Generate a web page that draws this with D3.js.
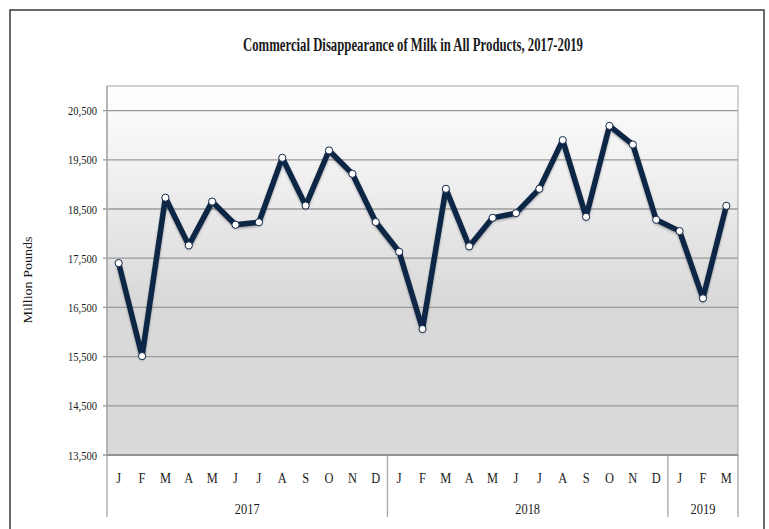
<!DOCTYPE html>
<html>
<head>
<meta charset="utf-8">
<script src="https://cdn.jsdelivr.net/npm/d3@7"></script>
<style>
  body { margin: 0; background: #fff; }
  text { font-family: "Liberation Serif", "DejaVu Serif", serif; fill: #1a1a1a; }
</style>
</head>
<body>
<div id="chart"></div>
<script>
// Data
const months = ["J","F","M","A","M","J","J","A","S","O","N","D",
                "J","F","M","A","M","J","J","A","S","O","N","D",
                "J","F","M"]
const years = ["2017", "2018", "2019"]
const yearMonthCounts = [12, 12, 3]
const milkValues = [
  17400, 15510, 18730, 17760, 18650, 18180, 18230, 19540, 18570, 19690, 19215, 18235,
  17630, 16060, 18910, 17740, 18320, 18415, 18910, 19900, 18340, 20190, 19810, 18280,
  18050, 16685, 18565
]
const yTicks = [13500, 14500, 15500, 16500, 17500, 18500, 19500, 20500]

// Dimensions
const dimensions = {
  width: 769,
  height: 529,
  plot: { left: 107, right: 738, top: 86, bottom: 455 },
}

const svg = d3.select("#chart")
  .append("svg")
  .attr("width", dimensions.width)
  .attr("height", dimensions.height)

const defs = svg.append("defs")
const grad = defs.append("linearGradient")
  .attr("id", "bg-grad")
  .attr("x1", 0).attr("y1", 0).attr("x2", 0).attr("y2", 1)
grad.append("stop").attr("offset", "0%").attr("stop-color", "#ffffff")
grad.append("stop").attr("offset", "30%").attr("stop-color", "#ececec")
grad.append("stop").attr("offset", "58%").attr("stop-color", "#d9d9d9")
grad.append("stop").attr("offset", "100%").attr("stop-color", "#d9d9d9")

const shadow = defs.append("filter").attr("id", "shadow")
  .attr("x", "-10%").attr("y", "-10%").attr("width", "120%").attr("height", "130%")
shadow.append("feDropShadow")
  .attr("dx", 0).attr("dy", 1.5).attr("stdDeviation", 1.2)
  .attr("flood-color", "#000").attr("flood-opacity", 0.3)

// Outer frame
svg.append("rect")
  .attr("x", 10).attr("y", 10)
  .attr("width", 754).attr("height", 530)
  .attr("fill", "none")
  .attr("stroke", "#3a3a3a")
  .attr("stroke-width", 1.5)

// Scales
const xScale = d3.scaleBand()
  .domain(d3.range(months.length))
  .range([dimensions.plot.left, dimensions.plot.right])
  .padding(0)

const yScale = d3.scaleLinear()
  .domain([13500, 21000])
  .range([dimensions.plot.bottom, dimensions.plot.top])

const p = dimensions.plot

// Plot background
svg.append("rect")
  .attr("x", p.left).attr("y", p.top)
  .attr("width", p.right - p.left).attr("height", p.bottom - p.top)
  .attr("fill", "url(#bg-grad)")
  .attr("stroke", "#a6a6a6")
  .attr("stroke-width", 1)

// Gridlines
svg.append("g")
  .selectAll("line")
  .data(yTicks)
  .join("line")
    .attr("x1", p.left - 4)
    .attr("x2", p.right)
    .attr("y1", d => yScale(d))
    .attr("y2", d => yScale(d))
    .attr("stroke", "#9a9a9a")
    .attr("stroke-width", 1.3)

// y tick labels (narrow serif look)
svg.append("g")
  .selectAll("text")
  .data(yTicks)
  .join("text")
    .attr("transform", d => `translate(97,${yScale(d) + 4.5}) scale(0.78,1)`)
    .attr("text-anchor", "end")
    .style("font-size", "13.5px")
    .text(d => d3.format(",")(d))

// Left axis line extended to bottom of category labels
svg.append("line")
  .attr("x1", p.left).attr("x2", p.left)
  .attr("y1", p.top).attr("y2", 517)
  .attr("stroke", "#a6a6a6").attr("stroke-width", 1.3)

// Year separators
let cum = 0
const sepIdx = yearMonthCounts.map(c => (cum += c))
svg.append("g")
  .selectAll("line")
  .data(sepIdx)
  .join("line")
    .attr("x1", d => d < months.length ? xScale(d) : p.right)
    .attr("x2", d => d < months.length ? xScale(d) : p.right)
    .attr("y1", p.bottom)
    .attr("y2", 517)
    .attr("stroke", "#a6a6a6").attr("stroke-width", 1.3)

// Bottom axis line
svg.append("line")
  .attr("x1", p.left).attr("x2", p.right)
  .attr("y1", p.bottom).attr("y2", p.bottom)
  .attr("stroke", "#8c8c8c").attr("stroke-width", 1.3)

// Month labels
svg.append("g")
  .selectAll("text")
  .data(months)
  .join("text")
    .attr("transform", (d, i) => `translate(${xScale(i) + xScale.bandwidth() / 2},483) scale(0.8,1)`)
    .attr("text-anchor", "middle")
    .style("font-size", "15.5px")
    .text(d => d)

// Year labels
let start = 0
const yearPos = yearMonthCounts.map(c => {
  const a = xScale(start)
  const b = start + c < months.length ? xScale(start + c) : p.right
  start += c
  return (a + b) / 2
})
svg.append("g")
  .selectAll("text")
  .data(years)
  .join("text")
    .attr("transform", (d, i) => `translate(${yearPos[i]},514) scale(0.8,1)`)
    .attr("text-anchor", "middle")
    .style("font-size", "15.5px")
    .text(d => d)

// Line
const line = d3.line()
  .x((d, i) => xScale(i) + xScale.bandwidth() / 2)
  .y(d => yScale(d))

svg.append("path")
  .datum(milkValues)
  .attr("fill", "none")
  .attr("stroke", "#112645")
  .attr("stroke-width", 5.5)
  .attr("stroke-linejoin", "round")
  .attr("filter", "url(#shadow)")
  .attr("d", line)

// Markers
svg.append("g")
  .selectAll("circle")
  .data(milkValues)
  .join("circle")
    .attr("cx", (d, i) => xScale(i) + xScale.bandwidth() / 2)
    .attr("cy", d => yScale(d))
    .attr("r", 3.6)
    .attr("fill", "#ffffff")
    .attr("stroke", "#112645")
    .attr("stroke-width", 1)

// Title
svg.append("text")
  .attr("x", 413)
  .attr("y", 51)
  .attr("text-anchor", "middle")
  .attr("textLength", 340)
  .attr("lengthAdjust", "spacingAndGlyphs")
  .style("font-size", "18px")
  .style("font-weight", "bold")
  .text("Commercial Disappearance of Milk in All Products, 2017-2019")

// Y axis label
svg.append("text")
  .attr("transform", "translate(32,280) rotate(-90)")
  .attr("text-anchor", "middle")
  .attr("textLength", 87)
  .attr("lengthAdjust", "spacingAndGlyphs")
  .style("font-size", "11.5px")
  .text("Million Pounds")
</script>
</body>
</html>
